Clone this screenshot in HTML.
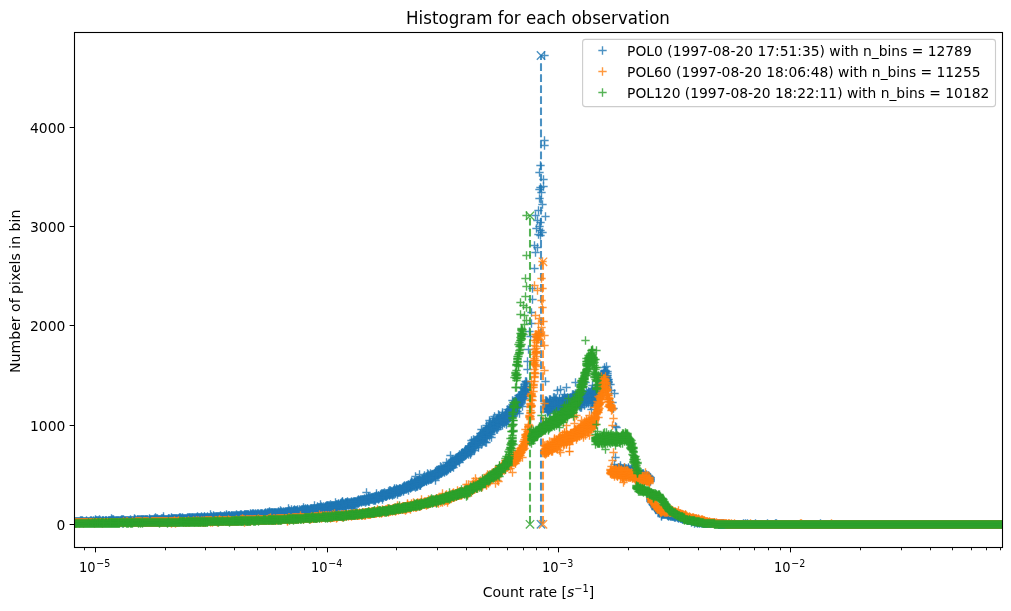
<!DOCTYPE html>
<html lang="en"><head><meta charset="utf-8"><title>Histogram for each observation</title>
<style>html,body{margin:0;padding:0;background:#fff}body{width:1011px;height:611px;overflow:hidden}</style></head>
<body>
<svg width="1011" height="611" viewBox="0 0 1011 611" style="display:block;font-family:'DejaVu Sans','Liberation Sans',sans-serif;font-size:13.89px;fill:#000">
<defs>
<marker id="pb" markerUnits="userSpaceOnUse" markerWidth="10" markerHeight="10" refX="5" refY="5" overflow="visible"><path d="M5 .83v8.34M.83 5h8.34" stroke="#1f77b4" stroke-opacity=".8" stroke-width="1.39" fill="none"/></marker>
<marker id="qb" markerUnits="userSpaceOnUse" markerWidth="10" markerHeight="10" refX="5" refY="5" overflow="visible"><path d="M5 .83v8.34M.83 5h8.34" stroke="#1f77b4" stroke-opacity=".98" stroke-width="1.39" fill="none"/></marker>
<marker id="xb" markerUnits="userSpaceOnUse" markerWidth="10" markerHeight="10" refX="5" refY="5" overflow="visible"><path d="M.83 .83l8.34 8.34M.83 9.17l8.34-8.34" stroke="#1f77b4" stroke-opacity=".8" stroke-width="1.39" fill="none"/></marker>
<marker id="po" markerUnits="userSpaceOnUse" markerWidth="10" markerHeight="10" refX="5" refY="5" overflow="visible"><path d="M5 .83v8.34M.83 5h8.34" stroke="#ff7f0e" stroke-opacity=".8" stroke-width="1.39" fill="none"/></marker>
<marker id="qo" markerUnits="userSpaceOnUse" markerWidth="10" markerHeight="10" refX="5" refY="5" overflow="visible"><path d="M5 .83v8.34M.83 5h8.34" stroke="#ff7f0e" stroke-opacity=".98" stroke-width="1.39" fill="none"/></marker>
<marker id="xo" markerUnits="userSpaceOnUse" markerWidth="10" markerHeight="10" refX="5" refY="5" overflow="visible"><path d="M.83 .83l8.34 8.34M.83 9.17l8.34-8.34" stroke="#ff7f0e" stroke-opacity=".8" stroke-width="1.39" fill="none"/></marker>
<marker id="pg" markerUnits="userSpaceOnUse" markerWidth="10" markerHeight="10" refX="5" refY="5" overflow="visible"><path d="M5 .83v8.34M.83 5h8.34" stroke="#2ca02c" stroke-opacity=".8" stroke-width="1.39" fill="none"/></marker>
<marker id="qg" markerUnits="userSpaceOnUse" markerWidth="10" markerHeight="10" refX="5" refY="5" overflow="visible"><path d="M5 .83v8.34M.83 5h8.34" stroke="#2ca02c" stroke-opacity=".98" stroke-width="1.39" fill="none"/></marker>
<marker id="xg" markerUnits="userSpaceOnUse" markerWidth="10" markerHeight="10" refX="5" refY="5" overflow="visible"><path d="M.83 .83l8.34 8.34M.83 9.17l8.34-8.34" stroke="#2ca02c" stroke-opacity=".8" stroke-width="1.39" fill="none"/></marker>
<clipPath id="ax"><rect x="74.5" y="32.5" width="928.0" height="515.0"/></clipPath>
</defs>
<rect width="1011" height="611" fill="#fff"/>
<g clip-path="url(#ax)">
<path transform="translate(.5 .5)" d="M75 522 75 521 76 521 76 522 77 521 77 522 78 521 78 522 79 521 79 522 80 521 81 522 81 521 82 521 83 521 83 522 84 521 85 521 86 521 86 522 87 521 88 521 88 522 89 521 89 522 90 522 90 521 91 522 91 521 92 521 92 522 93 521 94 521 95 521 96 521 96 520 97 521 97 522 98 520 98 521 98 522 99 521 99 522 100 521 100 522 101 521 102 521 102 522 102 520 103 521 103 520 104 521 105 521 105 520 106 521 106 520 107 521 108 521 108 520 109 522 109 521 109 520 110 521 110 520 111 521 111 520 112 521 113 521 113 520 114 521 115 521 116 521 116 520 117 521 117 520 118 520 118 521 119 521 120 521 120 520 121 520 121 521 122 521 122 520 123 520 123 521 124 520 124 521 125 521 125 520 126 520 126 521 127 520 127 521 128 520 128 521 129 520 131 520 131 521 132 521 132 520 133 520 134 520 135 520 136 520 136 521 137 519 137 520 138 521 138 520 139 520 140 520 141 520 141 519 142 520 142 519 143 520 143 519 144 520 145 520 145 519 146 519 146 521 146 520 147 519 147 520 148 520 149 519 149 520 150 520 150 519 151 520 151 519 152 520 152 519 153 519 153 520 154 520 154 519 155 519 155 520 156 520 156 519 157 520 157 519 158 519 159 520 159 519 160 519 160 520 161 520 161 519 162 519 163 519 163 518 164 519 164 520 165 519 166 520 166 519 167 519 167 520 168 519 168 518 169 519 169 520 170 519 170 520 171 519 171 520 172 519 172 518 173 519 173 520 173 518 174 519 174 520 174 518 175 518 175 519 176 518 176 519 177 519 178 518 178 519 179 518 179 519 180 519 180 518 181 518 181 519 182 518 182 519 183 519 183 518 184 519 184 518 185 518 186 519 186 518 187 518 188 518 189 517 189 518 189 519 190 518 190 519 191 518 191 519 192 517 192 518 192 519 193 519 193 518 194 518 194 519 195 518 196 517 196 519 196 518 197 518 197 517 197 519 198 519 198 517 198 518 199 518 199 517 200 518 200 517 201 517 201 518 202 518 202 517 202 519 203 517 203 518 204 518 204 517 204 516 205 517 205 518 206 517 206 518 207 518 207 517 208 518 208 517 209 517 209 518 210 517 210 518 211 517 211 518 211 516 212 517 212 518 213 517 214 517 214 518 215 518 215 517 216 517 216 516 217 517 217 518 217 516 218 517 218 516 219 518 219 516 219 517 220 517 220 516 221 517 221 516 222 517 222 516 223 517 223 516 224 517 224 516 225 516 225 517 226 516 226 517 227 517 227 516 228 517 228 516 228 515 229 515 229 516 230 517 230 516 231 516 231 515 232 516 233 516 234 516 234 517 235 516 235 517 236 516 237 516 237 515 238 516 238 515 239 516 239 515 240 515 240 516 241 515 242 516 242 515 243 515 244 516 244 514 244 515 245 516 245 514 245 515 246 515 246 514 247 515 247 514 248 516 248 515 248 514 249 515 249 517 249 516 250 516 250 515 250 514 251 515 251 514 252 515 252 514 253 514 253 515 254 515 254 514 254 516 255 515 255 514 256 516 256 514 256 515 257 515 257 514 258 514 258 515 259 514 259 515 260 515 260 514 261 514 261 513 262 514 263 514 263 515 264 513 264 514 265 514 265 513 266 514 267 514 267 513 268 513 268 514 269 514 269 513 270 515 270 514 270 513 271 512 272 512 272 513 273 513 273 514 274 512 274 513 275 513 275 512 276 514 276 513 277 513 278 513 278 512 279 513 279 512 280 513 280 512 281 512 282 512 282 513 283 513 283 512 284 512 285 512 286 512 286 513 287 512 287 511 287 513 288 512 288 511 288 513 289 511 289 512 290 511 290 513 290 512 291 512 291 511 292 512 292 511 293 511 293 512 293 510 294 511 294 510 294 512 295 511 295 510 295 512 296 512 296 510 296 511 297 511 298 511 299 512 300 510 300 511 301 510 301 511 302 510 302 511 302 509 303 510 304 510 304 509 305 510 305 509 306 509 306 510 306 512 307 510 307 508 307 509 308 509 308 510 310 509 310 510 311 508 311 510 311 509 312 509 312 510 313 508 313 509 314 508 315 508 315 509 315 510 316 508 316 509 317 508 317 509 318 507 318 509 319 507 319 508 319 509 320 508 320 509 320 507 321 507 321 508 322 507 322 508 323 508 324 507 324 508 325 508 325 506 325 507 326 507 326 506 326 508 327 505 327 506 327 507 328 508 328 507 329 506 329 507 330 507 330 506 331 505 331 506 331 507 332 508 332 506 332 505 333 506 333 508 333 505 334 506 334 507 334 505 335 505 335 506 336 507 336 506 336 504 337 505 337 506 338 504 338 505 339 506 340 505 340 504 340 503 341 505 341 504 342 506 342 504 342 501 343 503 343 504 343 505 344 505 344 504 345 507 345 505 345 502 346 502 346 503 346 504 347 503 347 504 349 503 349 504 350 504 350 503 351 502 351 504 352 502 353 502 353 504 353 503 354 502 354 504 354 503 354 501 355 502 355 501 356 502 357 502 358 502 358 500 358 501 359 501 359 500 359 502 360 501 360 500 361 501 361 500 362 499 362 500 363 499 363 501 363 500 364 499 364 500 365 500 365 499 366 500 366 499 366 498 367 500 367 499 368 500 368 501 369 499 369 498 370 499 370 498 371 499 371 498 371 497 372 498 372 499 372 497 373 498 373 497 374 498 375 497 375 498 375 496 376 497 376 496 376 498 377 498 377 497 378 498 378 497 378 495 379 497 379 496 380 496 380 495 381 496 381 497 381 495 382 494 382 495 382 496 382 497 383 493 383 495 384 494 384 495 385 495 385 496 386 496 386 494 387 495 387 493 388 494 388 493 389 494 389 493 389 495 390 494 390 493 391 493 391 492 391 491 392 493 392 492 393 492 393 493 393 490 394 490 394 491 395 493 395 490 395 491 396 491 397 492 397 489 397 491 398 489 398 492 398 490 398 491 399 490 399 488 400 489 401 489 401 490 402 488 402 489 403 487 403 489 403 488 404 487 404 489 404 486 404 488 405 487 406 485 406 488 407 486 407 487 408 487 408 486 409 486 409 485 409 487 410 484 410 485 411 482 412 484 412 485 413 484 413 483 414 485 414 484 414 483 414 482 414 481 415 482 415 483 416 483 416 486 417 480 418 483 418 480 418 482 419 481 419 482 420 483 420 480 420 482 420 485 421 483 421 482 421 480 422 480 422 479 422 482 423 480 423 481 424 479 424 481 425 480 425 479 426 480 426 479 426 478 426 481 427 478 427 479 427 477 428 479 429 476 429 477 430 478 430 477 430 476 430 479 431 476 431 477 432 474 432 475 433 476 434 474 435 471 435 475 435 473 436 473 436 474 437 475 437 473 438 472 438 473 438 470 439 471 439 470 439 472 440 470 440 472 440 471 440 473 441 470 441 473 441 469 442 471 443 469 444 469 444 468 445 468 445 466 445 470 446 466 446 469 447 466 447 467 448 466 449 465 449 464 449 463 449 466 450 464 450 465 450 462 450 468 451 463 451 462 452 465 452 461 452 466 452 462 453 462 453 461 455 461 455 460 456 459 457 459 457 457 457 460 458 456 458 458 458 459 459 457 459 459 460 457 460 456 461 453 461 455 462 454 462 456 463 456 463 454 463 455 463 453 464 453 465 455 465 449 465 453 465 451 465 452 465 450 466 449 466 452 467 453 467 452 468 450 469 449 469 448 469 451 470 448 470 450 471 446 471 450 471 447 471 445 472 445 472 443 472 446 473 445 473 443 474 443 474 444 474 447 475 443 476 441 476 444 476 443 476 440 476 442 477 442 477 438 478 442 479 438 479 441 480 433 480 438 481 439 482 436 483 440 483 433 483 437 484 435 484 437 484 436 485 434 485 433 485 430 487 435 487 433 488 434 488 427 488 430 488 431 490 429 491 429 491 427 491 428 491 431 492 423 493 426 493 424 493 425 494 422 494 425 495 425 495 422 496 425 496 424 496 421 497 418 498 424 498 423 499 421 499 420 500 419 500 420 500 418 500 422 501 419 501 421 502 422 502 416 502 415 503 421 504 417 505 414 505 415 505 417 505 420 506 414 506 418 506 421 507 413 507 418 508 414 509 417 509 412 510 412 510 414 510 416 511 410 511 411 511 407 513 411 513 412 515 410 515 407 516 407 516 398 518 398 519 399 519 395 521 398 522 396 522 397 522 395 522 394 523 392 523 394 523 395 524 390 524 389 524 394 524 391 525 392 525 390 526 390 546 407 547 407 547 409 547 408 547 404 547 406 548 411 549 409 549 405 549 403 550 405 550 406 551 404 552 401 552 408 553 406 553 407 554 403 554 406 555 401 555 402 555 405 555 408 555 404 558 404 558 402 558 403 558 405 559 398 560 401 560 402 561 404 561 401 562 403 562 399 563 400 563 405 564 401 564 405 564 403 565 398 565 403 566 400 566 401 566 402 567 403 569 401 570 399 570 398 571 399 571 402 571 398 572 399 573 398 573 396 574 399 575 401 575 398 575 399 576 398 577 402 578 399 578 394 578 401 579 398 579 399 579 405 580 400 581 395 581 397 581 396 582 398 582 395 582 400 583 399 583 400 584 399 584 397 585 398 585 396 586 399 586 402 586 395 587 400 587 396 589 396 589 399 590 394 590 398 591 394 591 397 591 399 592 401 592 402 592 397 592 396 594 400 595 395 596 397 596 396 597 391 597 392 598 391 599 392 599 386 599 387 598 386 602 381 600 380 601 379 603 378 602 378 601 375 603 375 604 373 605 372 604 371 605 381 605 375 605 371 607 375 607 379 608 379 608 382 614 468 614 469 615 469 615 470 616 470 616 472 616 471 617 469 617 471 617 468 618 470 619 469 620 470 620 471 621 468 621 471 621 470 622 469 622 473 622 472 622 471 623 471 623 472 623 469 623 470 624 473 624 472 624 470 625 472 625 471 626 471 626 473 627 473 627 471 627 470 627 472 628 473 629 473 630 471 630 474 630 473 631 472 632 473 633 474 633 473 633 472 634 474 634 472 634 473 634 471 635 472 635 475 636 475 636 476 637 475 637 476 637 474 637 472 638 475 638 474 638 477 639 477 640 476 641 476 641 477 641 474 642 475 642 476 642 474 643 476 643 477 644 475 644 477 644 476 645 476 646 477 646 479 646 478 646 476 647 478 647 477 648 480 648 478 648 476 648 477 649 478 649 477 650 477 650 479 650 499 650 498 651 499 651 501 652 501 652 502 653 503 653 505 653 504 654 505 654 504 654 506 655 506 655 507 655 508 656 509 656 508 657 509 658 510 658 511 659 511 659 510 659 512 660 512 660 510 660 511 661 513 661 512 662 514 662 513 662 512 663 513 663 514 663 512 664 513 664 514 665 513 665 514 665 512 666 514 666 513 667 515 667 514 667 513 668 514 668 515 669 514 669 515 670 514 670 515 671 515 671 514 672 514 672 515 672 516 673 516 673 515 674 515 674 516 675 516 676 516 676 515 677 517 677 516 678 517 678 516 679 516 679 517 680 516 680 517 680 518 681 518 681 517 682 519 682 518 682 517 683 518 683 517 684 519 685 519 685 518 686 519 686 518 687 520 687 519 688 519 688 520 689 519 689 520 690 519 690 520 691 520 691 519 692 520 693 521 693 520 694 520 694 521 695 521 695 520 696 521 696 522 697 521 697 522 698 521 698 522 699 522 700 522 701 522 702 522 703 522 703 523 704 522 704 523 705 523 705 522 706 522 706 523 707 523 708 523 708 522 709 523 709 522 710 523 711 523 712 523 713 523 714 523 715 523 716 523 717 523 718 523 718 524 719 523 719 524 720 524 721 524 721 523 722 523 722 524 723 523 723 524 724 524 725 524 726 524 727 524 728 524 729 524 730 524 731 524 732 524 733 524 734 524 735 524 736 524 737 524 738 524 739 524 740 524 741 524 742 524 743 524 744 524 745 524 746 524 747 524 748 524 749 524 750 524 751 524 752 524 753 524 754 524 755 524 756 524 757 524 758 524 759 524 760 524 761 524 762 524 763 524 764 524 765 524 766 524 767 524 768 524 769 524 770 524 771 524 772 524 773 524 774 524 775 524 776 524 777 524 778 524 779 524 780 524 781 524 782 524 783 524 784 524 785 524 786 524 787 524 788 524 789 524 790 524 791 524 792 524 793 524 794 524 795 524 796 524 797 524 798 524 799 524 800 524 801 524 802 524 803 524 804 524 805 524 806 524 807 524 808 524 809 524 810 524 811 524 812 524 813 524 814 524 815 524 816 524 817 524 818 524 819 524 820 524 821 524 822 524 823 524 824 524 825 524 826 524 827 524 828 524 829 524 830 524 831 524 832 524 833 524 834 524 835 524 836 524 837 524 838 524 839 524 840 524 841 524 842 524 843 524 844 524 845 524 846 524 847 524 848 524 849 524 850 524 851 524 852 524 853 524 854 524 855 524 856 524 857 524 858 524 859 524 860 524 861 524 862 524 863 524 864 524 865 524 866 524 867 524 868 524 869 524 870 524 871 524 872 524 873 524 874 524 875 524 876 524 877 524 878 524 879 524 880 524 881 524 882 524 883 524 884 524 885 524 886 524 887 524 888 524 889 524 890 524 891 524 892 524 893 524 894 524 895 524 896 524 897 524 898 524 899 524 900 524 901 524 902 524 903 524 904 524 905 524 906 524 907 524 908 524 909 524 910 524 911 524 912 524 913 524 914 524 915 524 916 524 917 524 918 524 919 524 920 524 921 524 922 524 923 524 924 524 925 524 926 524 927 524 928 524 929 524 930 524 931 524 932 524 933 524 934 524 935 524 936 524 937 524 938 524 939 524 940 524 941 524 942 524 943 524 944 524 945 524 946 524 947 524 948 524 949 524 950 524 951 524 952 524 953 524 954 524 955 524 956 524 957 524 958 524 959 524 960 524 961 524 962 524 963 524 964 524 965 524 966 524 967 524 968 524 969 524 970 524 971 524 972 524 973 524 974 524 975 524 976 524 977 524 978 524 979 524 980 524 981 524 982 524 983 524 984 524 985 524 986 524 987 524 988 524 989 524 990 524 991 524 992 524 993 524 994 524 995 524 996 524 997 524 998 524 999 524 1000 524 1001 524 1002 524" fill="none" stroke="none" marker-start="url(#qb)" marker-mid="url(#qb)" marker-end="url(#qb)"/>
<path transform="translate(.5 .5)" d="M74 522 75 523 80 520 81 520 82 522 82 520 84 522 85 522 86 520 87 522 90 520 91 520 93 520 94 522 95 519 95 520 97 520 99 519 100 520 103 522 104 522 105 522 107 522 108 522 110 522 111 518 112 520 112 519 113 519 114 520 115 520 115 522 116 522 119 520 121 519 122 519 122 523 123 522 123 519 129 521 130 519 130 520 130 521 131 522 133 521 134 521 134 519 134 518 135 519 135 521 138 519 139 519 139 521 140 519 142 521 144 519 145 521 145 522 149 521 149 518 150 521 154 521 154 518 155 517 156 518 157 518 159 521 161 518 162 520 162 518 163 520 163 516 165 520 166 521 169 518 171 517 171 518 177 518 178 520 179 517 180 517 182 520 182 517 187 517 187 519 188 519 188 517 190 517 191 517 193 517 194 517 195 517 197 516 199 519 201 516 206 519 207 519 207 516 208 520 210 514 211 519 212 519 213 518 213 516 213 515 214 516 215 516 220 515 222 518 223 518 224 515 226 515 226 514 228 518 232 515 232 517 233 515 233 517 234 515 235 515 236 515 236 514 238 517 238 518 240 514 241 514 243 517 243 516 246 516 247 516 249 519 250 513 251 516 252 516 252 513 253 513 255 513 255 516 257 513 258 513 259 516 260 513 260 516 262 513 262 515 264 516 264 515 265 515 265 512 266 513 267 512 268 512 268 515 269 512 269 515 269 511 270 512 271 514 271 513 272 514 273 512 274 514 274 515 275 514 276 512 277 518 277 512 278 514 278 511 279 515 280 514 280 510 281 513 281 511 282 514 283 516 283 511 284 514 284 513 285 513 285 511 286 511 288 514 288 508 289 510 291 509 293 513 294 509 297 510 297 509 298 512 299 509 301 509 303 507 303 509 304 511 305 511 305 508 306 513 306 511 308 511 309 509 309 510 310 511 310 508 312 508 313 510 313 511 314 505 314 509 316 510 317 506 317 507 320 504 321 511 321 506 322 509 323 506 326 505 327 508 328 505 328 506 328 510 329 505 329 508 330 504 330 508 331 508 331 509 332 507 335 507 335 502 336 505 337 507 337 504 338 503 338 507 338 506 339 505 340 506 341 507 341 503 341 502 342 505 342 502 343 507 344 503 344 506 345 504 346 505 346 508 347 502 347 501 348 504 348 505 348 502 348 503 349 502 350 502 351 501 351 507 351 503 352 504 352 503 353 508 353 501 353 510 354 505 355 503 356 501 356 503 357 500 357 503 357 501 358 499 358 503 360 499 361 499 361 502 362 501 364 498 364 501 365 502 366 492 366 501 367 498 368 499 368 498 368 496 368 497 369 497 369 501 370 497 373 500 374 496 374 500 374 499 375 499 375 500 376 493 376 495 377 496 378 499 378 496 379 498 380 497 380 494 381 494 381 493 382 493 382 499 383 494 383 497 384 492 385 493 386 495 386 493 387 494 388 491 389 490 389 492 390 492 390 490 390 491 391 494 392 491 392 495 392 494 393 494 394 494 394 488 394 489 395 492 396 489 396 488 396 490 397 490 397 494 399 489 399 492 399 491 400 492 400 490 400 488 401 491 402 487 403 491 403 486 403 490 404 485 405 488 405 489 405 486 406 487 406 489 406 486 407 488 407 485 408 484 408 490 408 485 410 486 410 483 410 488 410 487 411 481 411 487 411 485 411 483 411 486 412 486 412 482 413 486 413 485 414 486 415 484 415 487 415 476 416 480 416 482 416 485 416 481 417 485 417 483 417 486 417 482 417 484 418 484 418 481 419 485 419 480 419 479 419 474 419 483 420 481 421 481 422 481 423 477 423 479 424 480 424 478 424 475 426 476 426 477 427 473 427 476 428 475 428 474 428 480 428 478 428 477 428 476 429 475 429 479 430 475 430 473 431 479 431 475 431 474 431 478 432 476 432 477 432 478 433 477 434 475 434 473 435 477 435 480 435 474 436 475 436 470 436 472 437 472 437 470 437 471 438 475 438 474 438 469 439 474 439 469 439 473 440 466 441 471 441 467 442 472 442 468 442 469 443 471 443 470 443 467 444 472 444 471 445 469 445 467 446 471 446 467 446 468 446 470 446 462 447 468 447 465 447 470 448 465 448 469 448 467 448 468 448 464 450 455 450 467 451 464 451 461 451 460 451 466 452 463 452 459 453 464 453 463 453 460 453 467 454 463 454 464 454 461 454 460 455 462 455 463 455 464 455 459 455 458 456 457 456 460 457 458 459 462 459 454 459 456 460 455 460 459 461 458 461 457 461 454 462 455 462 453 462 458 462 452 462 457 464 451 464 456 465 454 466 454 467 450 467 451 467 449 468 451 468 447 468 449 468 454 469 450 469 452 469 446 470 454 470 453 471 440 471 444 471 448 471 443 471 452 472 448 472 444 472 442 473 442 473 448 473 439 474 450 474 442 474 440 474 445 475 447 475 440 475 442 475 441 476 445 478 441 478 440 478 436 478 447 478 445 478 438 478 443 478 439 479 442 479 439 480 439 480 436 480 442 480 437 480 435 481 435 481 429 481 444 481 437 482 442 482 438 482 432 482 437 483 432 483 434 483 441 483 431 483 435 484 441 484 433 484 434 484 431 485 436 485 429 485 442 485 438 485 432 486 436 486 425 486 438 486 432 486 429 486 427 486 442 486 433 486 430 487 430 487 429 487 428 487 432 488 428 488 433 488 432 489 429 489 423 489 420 489 432 489 430 489 436 490 431 490 430 490 426 490 434 490 422 491 434 491 425 491 437 492 426 492 427 492 429 492 428 492 425 492 421 493 430 493 427 493 418 493 423 493 428 493 421 494 429 494 416 494 428 495 424 495 421 495 423 496 429 496 426 496 420 496 427 496 419 497 420 497 429 497 419 498 419 498 427 498 414 498 421 499 418 499 424 499 415 499 422 500 425 500 424 500 421 501 418 501 417 502 419 502 421 502 412 502 414 502 425 502 417 502 420 503 419 503 422 503 420 504 419 504 415 504 423 505 413 505 419 505 416 506 420 506 412 506 424 507 414 507 416 507 409 507 420 508 420 508 416 508 417 509 409 509 418 509 411 509 416 509 413 510 415 510 413 510 406 510 408 510 411 511 414 511 415 512 409 512 410 512 400 512 406 512 412 512 404 512 411 512 408 513 416 513 410 513 406 513 414 514 404 514 410 514 409 514 413 515 401 515 408 515 402 515 413 515 403 515 412 515 404 516 404 516 400 516 406 516 399 516 411 517 411 517 402 517 397 517 406 517 401 517 403 517 398 518 404 518 395 518 403 519 405 519 397 519 413 519 402 519 400 520 404 520 395 520 396 520 397 521 402 521 399 521 401 521 400 521 403 521 387 522 392 522 406 522 398 522 399 523 393 523 391 523 388 523 396 524 386 524 392 524 396 524 388 524 398 524 384 525 395 525 393 525 386 525 389 526 389 526 386 526 381 526 383 526 392 526 382 545 400 545 403 546 404 546 401 546 406 546 400 546 408 546 405 547 402 547 411 547 412 547 401 548 410 548 405 548 404 548 409 549 399 549 407 549 423 549 410 549 402 550 402 550 412 550 401 550 400 550 399 550 409 550 408 550 403 551 403 552 407 552 404 552 405 552 402 553 397 553 404 554 407 554 397 554 400 554 409 554 405 554 404 555 400 555 403 555 410 555 407 555 398 556 398 556 407 556 402 557 405 557 401 557 404 557 390 557 403 557 408 558 409 559 404 559 402 560 406 560 411 560 389 560 408 560 403 561 408 561 403 562 408 562 402 562 400 562 409 562 398 562 404 562 401 563 401 563 410 563 403 563 402 563 398 563 404 563 409 564 399 564 397 564 394 565 404 565 405 565 407 566 407 566 405 566 387 566 406 566 398 566 399 566 404 567 398 567 397 567 405 567 399 568 403 568 408 568 404 569 404 569 398 570 400 570 405 570 406 570 397 570 404 571 401 571 403 572 401 572 394 572 402 572 400 572 397 573 403 573 399 573 400 573 397 573 404 573 401 573 402 573 394 573 395 574 395 574 402 574 398 574 403 574 404 575 402 575 404 575 403 575 393 575 382 576 396 576 401 576 404 577 397 577 398 577 395 577 400 577 399 578 403 578 397 578 400 578 393 578 392 579 396 579 400 579 403 579 406 579 401 579 402 580 392 580 407 580 402 580 395 580 397 580 404 581 401 581 405 581 399 581 400 581 403 581 407 582 391 582 401 582 396 582 402 583 396 583 401 583 398 583 397 584 401 584 402 584 405 585 400 585 382 585 397 586 396 586 390 586 403 587 393 587 399 588 401 588 398 588 403 588 397 588 393 588 396 588 391 589 400 589 392 590 405 590 392 590 393 590 399 590 395 590 396 591 390 591 409 591 402 591 395 592 394 592 398 592 399 592 388 592 385 592 395 592 391 592 390 593 400 593 399 594 391 594 392 594 394 594 395 594 401 595 406 595 399 595 401 595 398 595 394 595 396 596 398 596 392 596 388 596 393 596 405 596 395 597 403 597 395 597 389 597 396 599 391 599 389 598 388 600 389 598 384 600 386 599 384 599 385 600 383 601 383 601 384 601 381 602 382 599 382 600 382 602 384 600 381 601 380 601 377 602 377 603 377 601 376 602 374 601 374 603 373 603 374 604 377 604 367 604 370 604 380 604 372 605 370 606 379 606 376 606 378 606 381 606 366 606 377 606 380 606 386 607 371 607 373 607 380 607 383 607 381 607 377 608 384 608 381 614 470 614 472 614 464 615 471 616 468 617 470 618 467 618 471 619 468 619 471 619 467 620 472 620 465 620 469 620 473 620 467 620 468 621 473 621 472 622 470 622 468 622 474 623 468 623 473 624 468 624 467 624 469 624 471 625 469 625 473 625 468 626 472 626 468 626 474 626 470 626 475 627 469 627 474 628 468 628 467 628 469 628 470 628 472 629 471 629 469 629 470 629 472 630 469 630 472 631 475 631 471 631 469 631 468 631 474 632 468 632 471 632 475 632 476 633 475 633 471 634 470 634 476 636 472 637 473 637 471 638 479 639 474 639 472 639 478 640 475 640 478 640 474 642 480 642 477 642 473 643 473 643 474 643 475 644 478 644 479 644 480 645 475 645 477 646 474 646 480 647 480 648 475 648 479 649 479 649 481 649 476 650 480 650 478 650 481 650 501 650 497 650 500 651 497 651 502 651 500 652 504 654 507 655 509 656 506 656 507 657 508 658 508 658 509 659 513 661 516 661 515 662 511 664 512 668 516 668 513 669 513 670 513 670 516 671 516 673 513 674 517 675 517 675 515 677 515 678 518 679 515 681 516 682 516 684 518 686 517 687 517 687 518 688 518 689 518 690 518 691 518 691 522 692 521 692 519 694 523 697 523 699 521 699 523 700 521 701 523 703 521 707 522 714 522 720 523 544 55 544 140 544 145 540 165 539 172 543 179 543 186 540 187 539 189 541 192 539 198 542 204 538 210 545 216 535 215 537 220 540 222 539 226 536 228 540 230 542 232 538 234 540 235 534 245 537 247 535 252 534 268 532 288 532 299 531 312 531 323 545 381 525 381 527 369 527 361 528 349 530 336 529 331 610 384 611 390 614 393 612 402 613 408 615 426 616 427 615 457 743 523 745 523 747 523 755 523 767 523 775 523 776 523 820 523" fill="none" stroke="none" marker-start="url(#pb)" marker-mid="url(#pb)" marker-end="url(#pb)"/>
<path d="M541.0 524.3L541.0 55.5" fill="none" stroke="#1f77b4" stroke-opacity=".8" stroke-width="2.08" stroke-dasharray="7.71 3.33" stroke-dashoffset="-0.7" marker-start="url(#xb)" marker-end="url(#xb)"/>
<path transform="translate(.5 .5)" d="M74 522 75 522 76 522 77 522 78 522 79 522 80 522 81 522 82 522 83 522 84 522 85 522 86 522 87 522 88 522 89 522 90 522 91 522 92 522 93 522 94 522 95 522 96 522 97 522 98 522 99 522 100 522 101 522 102 522 103 522 104 522 105 522 106 522 107 522 108 522 109 522 110 522 111 522 112 522 113 522 114 522 115 522 116 522 117 522 118 522 119 522 120 522 121 522 122 522 123 522 124 522 125 522 126 522 127 522 128 522 129 522 130 522 131 522 132 522 132 521 133 522 134 522 135 522 136 522 136 521 137 521 137 522 138 521 138 522 139 521 139 522 140 522 141 522 142 522 143 522 143 521 144 521 144 522 145 522 145 521 146 522 146 521 147 522 148 522 149 522 150 522 151 522 151 521 152 521 152 522 153 522 153 521 154 522 154 521 155 521 155 522 156 522 156 521 157 521 157 522 158 521 158 522 159 522 159 521 160 521 160 522 161 522 161 521 162 522 162 521 163 521 163 522 164 522 164 521 165 521 166 521 166 522 167 521 167 522 168 521 168 522 169 521 170 522 170 521 171 521 171 522 172 521 172 522 173 521 173 522 174 521 174 522 175 521 176 522 176 521 177 521 177 522 178 521 179 521 180 521 181 521 182 521 183 522 183 521 184 521 185 522 185 521 186 521 187 521 188 521 189 521 190 521 191 521 192 521 193 521 194 521 195 521 196 521 196 520 197 521 198 521 199 521 200 521 201 521 202 521 203 521 204 521 205 520 205 521 206 520 206 521 207 520 207 521 208 521 209 521 209 520 210 521 210 520 211 521 211 520 212 521 213 521 214 521 214 520 215 520 215 521 216 521 216 520 217 521 218 521 219 521 219 520 220 521 220 520 221 520 221 521 222 520 222 521 223 520 223 521 224 520 225 520 225 521 226 520 226 521 227 521 227 520 228 520 228 521 229 520 229 521 230 521 230 520 231 520 231 521 232 520 232 521 233 520 234 520 235 520 236 521 236 520 237 520 238 520 239 520 240 520 241 521 241 520 242 520 243 520 243 519 244 520 245 520 246 520 246 519 247 520 247 519 248 520 249 520 250 519 250 521 250 520 251 520 252 520 253 520 253 519 254 520 254 519 255 519 255 520 256 519 256 520 257 520 257 519 258 520 258 519 259 520 259 519 260 519 260 520 261 519 261 520 262 519 262 520 263 519 263 520 264 520 264 519 265 520 265 519 266 520 266 519 267 519 268 519 268 520 269 519 270 519 271 519 272 519 272 520 273 519 273 520 274 519 275 519 276 519 277 519 278 519 278 518 279 519 279 518 280 519 280 518 281 518 281 519 282 519 282 518 283 518 283 519 284 519 284 518 285 519 285 518 286 519 286 518 287 518 287 519 288 518 288 519 289 519 289 518 290 518 291 518 291 519 292 519 292 518 293 518 294 518 294 517 295 518 295 519 295 517 296 518 296 517 296 519 297 518 298 518 299 518 299 517 300 517 300 518 301 518 301 517 302 518 302 517 303 518 303 517 304 518 304 517 305 517 305 518 306 518 306 517 307 518 307 517 308 517 308 518 309 517 310 518 310 517 311 517 311 518 312 518 312 517 313 517 314 517 314 516 315 517 316 518 316 517 316 516 317 517 317 516 318 517 318 516 319 517 320 517 320 516 321 517 321 516 322 517 322 516 323 516 323 517 323 515 324 517 324 516 325 516 325 517 326 516 326 517 326 515 327 516 328 515 328 516 329 516 329 517 330 517 330 516 331 516 331 517 332 516 332 517 333 517 333 516 333 515 334 516 335 515 335 516 336 516 337 516 338 516 338 515 339 516 339 515 340 516 340 515 341 516 341 515 342 515 342 516 343 515 344 514 344 516 344 515 345 516 345 515 345 514 346 515 347 514 347 515 348 514 348 515 349 514 350 514 350 515 351 514 351 515 352 514 352 515 353 514 353 515 354 515 354 514 355 514 355 513 356 514 356 515 356 513 357 514 357 513 357 515 358 514 358 513 358 515 359 514 360 514 360 513 361 514 361 513 362 515 363 513 363 514 363 512 364 513 364 514 365 513 366 513 367 512 367 513 368 514 368 512 368 513 369 514 369 512 369 513 370 513 370 514 370 512 371 511 371 512 371 513 372 512 373 513 373 511 373 512 374 512 374 513 374 511 375 513 375 511 375 512 376 511 376 512 377 512 377 511 378 512 379 512 379 511 380 511 381 511 382 510 382 511 382 512 383 510 383 511 384 512 384 511 384 510 385 510 386 511 386 509 386 510 387 510 387 511 388 511 388 510 389 510 389 509 390 510 390 511 390 509 391 509 391 510 392 510 392 509 393 509 394 510 394 509 395 509 395 510 396 509 396 510 397 509 397 508 398 509 398 507 398 508 399 507 399 508 399 509 400 508 400 509 401 508 401 507 402 508 402 507 402 506 403 508 403 507 403 506 404 506 404 507 405 507 405 508 405 506 406 508 406 507 406 506 407 507 407 506 408 507 409 507 409 506 410 505 410 507 410 506 411 506 412 506 412 505 413 506 413 505 413 507 414 504 414 505 415 506 415 505 416 505 416 506 416 504 417 505 418 504 418 505 419 504 419 505 420 505 420 504 420 503 421 505 421 503 421 504 422 504 422 503 423 502 423 503 424 504 424 503 424 502 425 502 425 503 426 503 426 504 426 502 427 502 427 503 428 503 428 502 429 502 430 500 430 501 430 503 430 502 431 501 431 502 432 501 432 500 433 501 433 500 433 502 434 500 435 500 435 501 436 501 436 500 436 498 436 499 437 500 437 499 437 502 438 498 438 499 439 500 439 498 440 500 440 499 441 499 441 497 442 499 442 498 443 499 444 498 444 497 445 498 445 500 445 499 446 496 446 498 446 497 447 497 447 496 448 497 448 496 449 497 449 496 449 495 450 497 450 495 450 496 451 496 452 495 452 496 453 497 453 494 453 495 453 493 454 495 454 494 455 496 455 493 455 494 456 494 456 493 456 496 457 494 457 493 458 493 459 493 459 495 459 494 459 491 460 492 460 493 460 491 461 492 461 491 462 492 462 493 463 492 463 493 463 491 464 492 464 490 465 492 465 491 466 492 466 491 466 488 467 491 467 489 467 490 468 490 468 489 469 491 470 490 470 489 471 488 471 489 472 490 472 489 472 487 472 488 473 488 473 485 474 487 474 489 475 487 475 486 477 485 477 486 478 486 478 485 478 484 479 485 479 484 480 485 480 483 480 482 481 486 481 484 481 485 481 483 482 482 483 483 483 482 483 481 484 481 484 483 484 482 485 482 486 481 486 479 487 481 487 480 487 478 488 480 488 479 488 478 489 479 489 478 489 477 490 476 490 479 490 477 490 480 491 476 491 478 492 477 493 476 493 475 494 476 494 475 494 473 495 475 495 474 496 474 497 473 498 471 498 474 499 468 499 473 499 469 500 471 500 467 500 469 500 470 501 469 501 468 502 468 502 469 502 466 503 466 503 464 504 464 504 465 505 469 505 464 505 467 505 460 506 464 506 462 507 464 508 464 508 465 508 463 509 463 509 461 509 465 510 463 510 460 510 462 511 460 511 461 512 460 513 456 513 459 514 458 514 456 515 460 515 458 515 463 515 457 516 454 516 459 516 456 518 455 518 456 518 454 519 452 519 453 519 455 520 453 520 452 521 450 521 448 522 448 522 447 522 450 523 449 523 446 523 445 524 443 525 444 525 437 525 442 526 437 526 436 527 433 528 429 528 426 528 435 530 406 531 406 531 405 534 360 536 352 536 351 537 339 538 333 544 453 544 452 545 448 546 452 546 448 546 449 548 452 548 450 548 448 548 449 548 446 549 450 549 448 550 449 550 447 550 448 550 445 551 448 551 446 552 448 552 445 553 446 553 447 554 446 554 444 555 445 555 442 556 444 557 444 557 445 557 440 558 445 558 440 558 442 558 443 558 444 559 439 559 443 560 439 561 438 561 440 562 440 562 441 562 438 563 440 563 443 564 441 564 437 564 432 566 436 566 444 566 442 567 435 567 438 567 436 567 437 568 439 569 441 569 435 569 451 570 435 570 437 570 433 571 435 571 436 573 435 573 433 573 432 573 434 574 432 575 429 576 434 576 430 576 435 577 433 577 435 577 432 578 429 578 431 578 428 579 433 579 434 581 430 581 433 582 428 582 433 583 427 585 425 586 425 586 422 587 425 587 423 587 426 587 424 588 432 588 425 588 424 589 425 589 423 590 425 590 423 592 425 592 420 594 417 594 419 594 425 595 418 595 417 596 413 597 412 597 410 597 411 598 409 597 406 598 405 599 404 599 403 600 399 600 398 600 395 602 384 604 384 605 382 605 380 604 378 603 378 606 384 605 383 606 386 605 387 606 388 608 395 607 395 609 398 608 399 609 401 610 402 610 407 610 406 611 407 610 473 611 472 611 471 612 473 613 474 613 472 614 472 614 471 614 474 614 473 615 470 615 471 615 473 616 471 616 470 616 473 616 472 617 476 617 471 618 474 618 472 619 473 619 472 620 473 621 472 622 472 622 475 622 474 623 473 623 471 623 474 623 472 624 473 624 475 624 474 625 473 625 474 625 471 626 474 627 475 627 472 628 473 628 475 628 472 629 474 629 473 629 475 630 473 630 477 631 475 631 474 632 473 632 476 632 474 633 476 633 475 633 474 634 476 635 479 635 476 635 478 635 477 635 475 636 477 636 476 636 474 636 479 637 478 637 477 638 476 638 478 639 479 639 477 640 478 641 478 642 479 642 480 643 477 643 480 643 478 643 479 643 481 644 480 644 479 645 480 645 479 646 479 646 477 646 481 646 480 647 480 647 481 648 481 648 480 649 481 649 480 650 498 651 499 651 500 651 498 651 501 652 499 652 501 653 500 653 502 654 504 654 503 655 505 656 506 656 505 657 508 657 507 658 508 658 507 658 509 659 508 659 509 660 509 660 510 660 511 661 509 661 511 662 510 662 511 663 508 663 510 663 509 664 510 664 511 665 510 666 511 666 510 667 510 667 511 668 511 669 511 669 510 669 512 670 512 671 511 671 512 672 511 672 512 672 510 673 512 673 511 673 513 674 512 675 512 675 513 676 512 676 513 677 513 677 514 678 514 679 516 679 514 679 513 680 515 680 513 681 515 681 514 682 515 682 514 683 516 683 515 684 515 684 516 685 516 685 515 685 514 686 516 686 517 687 517 688 517 689 517 689 518 690 517 690 518 691 518 692 518 692 519 693 519 693 518 694 518 694 519 695 519 695 518 696 519 696 518 696 520 697 519 698 519 698 520 699 520 699 521 700 520 701 520 701 521 702 520 702 521 703 521 703 520 704 520 704 521 705 521 706 521 707 521 707 522 708 522 709 522 710 522 711 522 712 522 712 523 713 522 713 523 714 523 714 522 715 523 716 523 717 523 718 523 719 523 720 523 721 523 722 523 723 523 724 523 725 523 725 524 726 523 726 524 727 524 728 524 728 523 729 524 730 524 731 524 732 524 733 524 734 524 735 524 736 524 737 524 738 524 739 524 740 524 741 524 742 524 743 524 744 524 745 524 746 524 747 524 748 524 749 524 750 524 751 524 752 524 753 524 754 524 755 524 756 524 757 524 758 524 759 524 760 524 761 524 762 524 763 524 764 524 765 524 766 524 767 524 768 524 769 524 770 524 771 524 772 524 773 524 774 524 775 524 776 524 777 524 778 524 779 524 780 524 781 524 782 524 783 524 784 524 785 524 786 524 787 524 788 524 789 524 790 524 791 524 792 524 793 524 794 524 795 524 796 524 797 524 798 524 799 524 800 524 801 524 802 524 803 524 804 524 805 524 806 524 807 524 808 524 809 524 810 524 811 524 812 524 813 524 814 524 815 524 816 524 817 524 818 524 819 524 820 524 821 524 822 524 823 524 824 524 825 524 826 524 827 524 828 524 829 524 830 524 831 524 832 524 833 524 834 524 835 524 836 524 837 524 838 524 839 524 840 524 841 524 842 524 843 524 844 524 845 524 846 524 847 524 848 524 849 524 850 524 851 524 852 524 853 524 854 524 855 524 856 524 857 524 858 524 859 524 860 524 861 524 862 524 863 524 864 524 865 524 866 524 867 524 868 524 869 524 870 524 871 524 872 524 873 524 874 524 875 524 876 524 877 524 878 524 879 524 880 524 881 524 882 524 883 524 884 524 885 524 886 524 887 524 888 524 889 524 890 524 891 524 892 524 893 524 894 524 895 524 896 524 897 524 898 524 899 524 900 524 901 524 902 524 903 524 904 524 905 524 906 524 907 524 908 524 909 524 910 524 911 524 912 524 913 524 914 524 915 524 916 524 917 524 918 524 919 524 920 524 921 524 922 524 923 524 924 524 925 524 926 524 927 524 928 524 929 524 930 524 931 524 932 524 933 524 934 524 935 524 936 524 937 524 938 524 939 524 940 524 941 524 942 524 943 524 944 524 945 524 946 524 947 524 948 524 949 524 950 524 951 524 952 524 953 524 954 524 955 524 956 524 957 524 958 524 959 524 960 524 961 524 962 524 963 524 964 524 965 524 966 524 967 524 968 524 970 524 971 524 972 524 973 524 974 524 975 524 976 524 977 524 978 524 979 524 980 524 981 524 982 524 983 524 984 524 985 524 986 524 987 524 988 524 989 524 990 524 991 524 992 524 993 524 994 524 995 524 996 524 997 524 998 524 999 524 1000 524 1001 524 1002 524" fill="none" stroke="none" marker-start="url(#qo)" marker-mid="url(#qo)" marker-end="url(#qo)"/>
<path transform="translate(.5 .5)" d="M75 523 76 523 79 523 83 523 94 523 102 523 123 521 126 521 127 521 135 521 140 521 141 521 147 521 148 521 165 522 169 522 171 523 174 520 175 523 178 520 178 522 179 522 186 522 188 520 188 522 189 522 193 520 194 522 198 520 198 522 200 522 201 520 202 522 203 522 203 520 204 522 205 522 208 520 210 522 212 522 217 520 217 522 218 520 219 519 228 519 233 521 234 521 235 521 236 519 237 521 238 521 240 519 241 519 242 518 242 519 244 519 244 522 246 521 247 521 248 519 249 519 251 519 252 519 258 518 268 518 269 520 269 518 270 518 270 517 271 520 273 518 274 518 275 520 276 518 276 520 277 518 280 520 287 520 287 521 288 517 289 517 290 519 292 517 293 517 293 519 294 519 297 517 298 519 298 517 300 515 303 519 309 518 310 519 311 516 312 516 313 518 315 518 315 516 319 516 319 514 321 515 321 518 325 515 327 517 328 517 330 515 330 518 332 515 332 514 334 513 334 517 336 517 336 515 336 518 337 515 337 517 338 514 341 514 342 517 342 514 348 516 349 515 350 513 351 516 353 513 354 513 359 513 359 515 359 512 362 513 362 512 362 514 364 515 364 512 365 514 365 515 365 512 366 512 367 514 369 511 372 511 372 513 374 510 376 513 377 509 377 510 378 511 379 510 379 513 381 513 381 512 382 509 385 509 387 508 388 509 388 512 389 511 389 508 392 508 392 511 393 510 393 508 394 507 394 508 395 511 395 508 396 508 396 507 397 505 398 510 399 506 400 507 401 509 402 509 403 509 404 509 404 508 405 510 406 509 407 504 407 503 407 508 407 505 408 506 408 508 408 505 409 508 409 505 410 509 411 503 411 504 413 502 415 507 415 504 416 507 416 503 417 504 417 502 417 503 418 503 418 506 419 503 420 502 420 506 421 499 424 501 425 504 425 501 426 505 426 501 427 501 428 499 428 504 428 501 429 503 429 501 430 499 431 500 434 501 434 499 434 502 435 502 435 499 437 498 438 503 438 500 439 499 440 502 440 498 441 501 442 502 442 497 442 493 443 498 444 501 445 496 445 497 445 495 446 500 446 499 446 494 447 498 447 500 447 499 447 502 448 495 448 499 448 500 449 498 450 494 451 498 451 497 451 495 452 493 452 497 453 496 453 492 454 497 454 496 456 495 457 490 457 495 457 492 458 494 458 495 459 492 460 495 461 495 461 493 462 491 462 494 464 493 464 491 464 489 465 490 465 489 465 493 466 484 466 490 467 494 468 493 468 492 468 484 468 488 469 488 469 489 471 487 471 492 471 486 472 484 473 487 473 489 473 481 474 485 474 486 474 484 475 483 475 478 475 485 476 488 476 483 476 485 476 481 477 484 477 488 478 483 479 483 479 481 480 480 480 484 481 481 481 487 482 479 482 484 482 485 482 486 484 479 484 478 484 480 485 480 485 481 486 478 486 485 486 482 486 477 486 484 486 480 486 476 487 479 487 482 487 474 488 483 488 476 488 482 488 481 489 480 489 474 489 475 491 477 491 475 492 476 492 475 493 473 493 474 493 472 493 477 494 477 495 473 495 483 495 470 495 471 495 476 495 472 495 469 496 469 496 475 497 480 497 477 497 474 497 469 498 472 498 473 498 470 498 481 499 471 500 472 501 466 501 470 502 470 502 464 503 469 503 468 504 468 504 467 504 466 504 463 504 470 505 462 505 465 505 463 505 466 506 467 507 467 507 461 507 460 507 459 507 462 508 462 508 459 508 461 509 460 509 462 510 457 510 468 511 465 511 462 511 456 511 459 511 458 511 463 512 472 513 460 513 452 513 461 513 462 513 458 513 455 514 462 514 460 515 455 515 459 516 461 516 457 516 458 516 460 517 460 517 456 517 453 517 458 517 455 518 458 518 453 518 451 519 451 519 448 519 454 519 450 520 455 520 450 520 451 521 447 521 449 521 452 522 445 522 449 522 457 523 447 523 441 524 441 524 448 524 444 524 439 525 441 525 429 525 434 525 435 526 440 526 443 526 434 527 439 527 435 527 437 527 431 528 433 528 432 528 427 528 431 528 424 529 425 529 417 530 418 530 419 529 415 529 416 530 416 530 413 531 412 530 412 530 410 530 407 530 404 530 403 532 400 530 400 531 399 532 396 530 395 531 395 531 396 531 394 531 393 533 391 531 387 533 387 533 384 533 385 534 381 531 381 534 376 534 377 535 373 534 373 534 372 534 369 536 366 535 365 533 364 533 363 534 362 535 364 533 360 536 360 534 358 536 356 533 354 536 353 535 352 536 348 534 349 536 346 534 345 538 339 536 342 536 340 534 340 537 337 538 338 536 337 537 335 536 336 536 334 539 336 535 334 539 334 539 333 538 331 544 449 544 445 544 451 545 452 545 454 545 449 545 446 545 451 546 453 546 447 546 446 547 444 547 446 547 450 547 452 548 445 549 446 549 441 549 449 550 446 551 451 551 445 551 449 551 447 551 450 552 450 552 451 552 443 552 449 552 444 553 448 553 443 554 438 554 448 554 439 554 440 554 443 554 445 555 446 555 447 556 443 556 448 556 440 556 439 556 445 557 447 557 443 557 449 558 439 558 441 558 438 559 445 559 438 559 436 559 442 559 450 560 436 560 440 560 442 560 438 560 452 561 441 561 442 561 439 561 443 562 437 562 434 563 445 564 444 564 440 564 439 564 436 565 439 565 438 565 436 566 434 566 441 566 438 566 440 566 435 566 431 566 425 567 439 567 434 567 441 568 440 568 435 569 444 570 440 570 434 571 439 571 434 571 433 571 440 571 437 572 437 572 436 572 434 572 439 572 440 572 433 574 433 574 429 574 434 574 437 574 417 574 423 574 430 575 432 575 436 575 431 576 415 576 437 576 439 577 429 577 436 577 430 577 437 578 434 578 435 578 430 578 432 579 427 579 429 579 431 579 428 579 432 579 436 579 435 580 425 580 427 580 433 580 430 580 428 580 431 580 429 581 434 581 435 581 431 581 420 581 426 582 432 582 426 582 430 582 427 582 431 583 437 583 428 583 434 583 430 583 429 583 426 584 427 584 432 584 430 584 421 584 426 584 428 584 429 584 424 585 422 585 435 585 428 585 432 586 419 586 421 586 423 587 428 587 431 587 432 587 429 587 422 587 427 588 420 588 426 588 427 589 415 589 424 589 435 589 426 589 421 590 421 590 424 590 428 590 430 590 422 590 420 591 425 591 429 591 423 591 420 591 427 591 418 591 417 592 427 592 424 592 426 592 421 593 424 593 421 593 417 593 428 593 420 594 423 594 422 594 407 594 420 595 419 595 424 595 416 598 417 596 414 596 412 598 412 595 412 598 410 599 408 598 407 597 404 597 401 601 402 600 402 598 402 602 397 599 397 603 394 598 396 601 396 601 392 601 393 602 392 602 390 601 386 602 386 601 389 602 387 602 388 603 385 603 383 604 383 603 381 601 383 604 382 603 382 605 379 605 376 601 376 603 379 604 381 604 380 604 379 606 382 604 385 605 389 604 388 607 389 607 390 606 389 606 390 606 391 608 393 606 394 607 399 606 395 608 397 608 401 609 405 610 404 608 406 611 406 611 405 609 404 610 405 609 406 612 409 611 410 612 408 610 470 610 469 610 472 611 474 611 470 611 466 612 474 612 472 612 470 613 473 613 471 613 470 613 469 614 470 614 476 615 474 615 469 615 472 616 469 616 475 617 472 617 473 618 473 618 470 618 467 619 474 619 468 620 475 620 471 620 478 620 470 620 472 620 474 621 473 621 474 621 469 621 475 621 470 622 477 622 478 622 473 623 476 623 482 623 477 624 480 624 467 625 476 625 472 625 475 626 475 626 470 626 477 626 473 627 473 627 470 628 477 629 476 629 477 629 472 630 475 630 474 631 476 631 472 631 473 632 475 632 478 634 477 634 472 634 478 635 480 635 472 636 475 636 481 636 478 637 475 637 480 637 479 638 474 638 475 638 477 639 478 639 476 639 482 640 479 640 476 641 480 641 476 641 477 642 476 642 477 642 478 644 476 644 481 644 478 645 478 645 472 646 478 646 476 647 475 647 479 648 477 649 483 649 479 649 478 649 477 649 482 651 502 652 500 653 501 653 503 655 507 655 504 657 506 657 509 659 507 659 510 660 512 661 512 661 510 662 509 663 511 664 509 664 512 665 512 666 512 666 509 667 512 668 509 668 510 669 508 670 511 670 510 671 509 674 511 675 511 676 514 677 512 678 510 678 513 679 515 680 514 683 514 685 517 686 515 687 516 689 516 691 519 692 517 693 517 698 518 699 519 701 519 702 519 703 522 704 522 706 522 708 523 709 521 716 522 969 524 542 261 541 278 534 285 542 288 537 290 541 300 542 307 535 315 539 318 543 321 538 323 541 327 544 335 544 345 544 370 544 403 613 418 612 425 613 452 612 460 729 523 731 523 734 523 750 523 800 523 801 523 831 523" fill="none" stroke="none" marker-start="url(#po)" marker-mid="url(#po)" marker-end="url(#po)"/>
<path d="M543.0 524.3L543.0 261.8" fill="none" stroke="#ff7f0e" stroke-opacity=".8" stroke-width="2.08" stroke-dasharray="7.71 3.33" stroke-dashoffset="-0.7" marker-start="url(#xo)" marker-end="url(#xo)"/>
<path transform="translate(.5 .5)" d="M74 523 75 523 76 523 77 523 78 523 79 523 80 523 81 523 82 523 83 523 84 523 85 523 86 523 87 523 88 523 89 523 90 523 91 523 92 523 93 523 94 523 94 522 95 523 96 523 97 523 98 522 98 523 99 523 100 523 101 522 101 523 102 523 102 522 103 523 104 523 105 522 105 523 106 522 106 523 107 523 108 522 108 523 109 523 109 522 110 523 111 523 111 522 112 523 112 522 113 522 113 523 114 523 114 522 115 522 115 523 116 522 116 523 117 522 117 523 118 523 119 522 119 523 120 522 121 522 122 522 123 522 124 522 125 522 126 522 127 522 128 522 129 522 130 522 131 522 132 522 133 522 134 522 135 522 136 522 137 522 138 522 139 522 140 522 141 522 142 522 143 522 144 522 145 522 146 522 147 522 148 522 149 522 150 522 151 522 152 522 153 522 154 522 155 522 156 522 157 522 158 522 159 522 160 522 161 522 162 522 163 522 164 522 165 522 166 522 167 522 168 522 169 522 170 522 171 522 172 522 173 522 174 522 175 522 176 522 177 522 178 522 179 522 179 521 180 522 181 522 182 522 182 521 183 521 183 522 184 521 184 522 185 522 186 522 186 521 187 522 187 521 188 522 188 521 189 522 189 521 190 522 190 521 191 522 191 521 192 521 192 522 193 521 193 522 194 522 194 521 195 522 195 521 196 521 196 522 197 522 197 521 198 522 198 521 199 521 199 522 200 521 200 522 201 521 202 521 203 521 203 522 204 521 205 521 205 522 206 521 207 522 207 521 208 521 209 521 210 521 211 521 212 521 213 521 214 521 215 521 216 521 217 521 218 521 219 521 220 521 221 521 222 521 223 521 224 521 225 521 226 521 227 521 228 521 229 521 230 521 231 521 232 521 233 521 234 520 234 521 235 521 235 520 236 520 236 521 237 520 237 521 238 521 238 520 239 521 239 520 240 520 240 521 241 521 241 520 242 520 242 521 243 521 243 520 244 520 245 520 246 520 247 520 247 521 248 520 248 521 249 521 249 520 250 520 251 520 252 520 253 520 254 520 255 520 256 520 257 520 258 520 259 520 260 520 261 520 262 520 263 520 263 519 264 519 264 520 265 520 265 519 266 520 267 520 268 520 268 519 269 520 269 519 270 519 270 520 271 520 271 519 272 520 272 519 273 519 273 520 274 519 274 520 275 519 275 520 276 519 277 519 278 519 278 520 279 519 280 519 281 519 282 519 283 519 284 519 285 519 286 519 287 519 287 518 288 519 289 519 289 518 290 519 291 519 292 519 292 518 293 518 293 519 294 518 295 518 295 519 296 518 296 519 297 519 297 518 298 518 298 519 299 518 300 518 300 519 301 518 302 518 303 518 304 518 305 518 305 517 306 517 306 518 307 517 307 518 308 518 308 517 309 518 309 517 310 518 311 518 311 517 312 517 312 516 313 517 313 518 314 517 314 518 315 517 315 518 316 518 316 517 317 517 318 517 319 517 319 518 320 517 321 517 322 516 322 517 323 516 323 517 324 517 324 516 325 517 325 516 326 517 327 517 327 516 328 517 328 516 329 517 329 516 330 516 331 516 332 516 333 516 334 516 335 516 335 515 336 516 336 515 337 515 337 516 338 515 338 516 339 516 339 515 340 516 340 515 341 515 341 516 342 515 342 516 343 515 343 516 344 515 345 515 346 515 346 514 346 516 347 515 348 515 348 514 349 514 349 515 350 515 350 514 351 515 351 514 352 514 352 515 353 515 353 514 354 514 354 515 355 515 355 514 355 513 356 514 356 513 357 514 357 513 358 514 359 514 359 513 360 514 361 513 361 514 362 513 362 514 363 513 364 513 365 513 366 513 367 512 367 513 368 513 368 512 368 511 369 513 369 512 370 513 370 512 371 512 371 513 372 513 372 512 373 512 373 513 373 511 374 512 375 512 376 512 377 511 377 512 378 511 378 512 379 511 379 512 379 510 380 512 380 511 380 510 381 511 382 511 382 510 383 511 383 510 384 511 384 510 385 510 386 511 386 510 387 511 387 510 388 510 388 511 389 510 390 509 390 510 391 510 391 509 392 509 392 510 393 509 393 510 393 508 394 509 395 509 395 508 396 509 396 508 397 509 397 507 397 508 398 508 398 509 399 508 399 509 400 508 400 509 401 507 401 508 402 507 403 507 403 508 404 507 405 508 405 506 405 507 406 507 407 507 407 506 408 506 408 507 409 506 409 507 410 506 410 507 411 507 411 506 412 506 412 505 413 506 413 505 414 506 414 505 415 504 415 506 415 505 416 505 416 504 417 505 417 504 418 505 418 504 419 505 419 504 419 506 420 504 420 505 421 505 421 504 421 503 422 503 423 504 423 503 424 503 425 502 425 503 426 503 426 502 427 503 427 502 428 502 428 503 429 503 429 502 430 502 431 501 431 500 432 502 432 500 432 501 433 502 433 500 433 501 434 501 434 500 435 500 435 499 435 501 436 499 436 501 436 500 437 499 437 500 438 500 438 501 438 499 439 499 440 498 440 500 440 499 441 499 441 498 442 498 442 499 443 498 444 499 444 497 444 498 445 498 445 496 446 497 446 498 447 498 447 497 448 497 448 496 448 498 449 497 449 496 450 496 450 497 451 496 452 495 452 494 452 496 453 495 453 494 454 495 454 494 455 494 456 494 456 495 456 493 457 494 457 493 457 495 458 495 458 494 458 493 459 493 459 492 459 494 460 492 460 493 461 492 461 494 461 493 462 493 462 491 463 493 463 492 464 491 464 493 464 490 464 492 465 491 466 490 467 490 467 489 468 490 468 491 469 489 469 490 470 489 470 490 471 488 471 487 471 489 472 487 472 490 472 488 473 486 473 488 473 489 473 487 474 488 474 487 475 486 475 487 476 488 476 486 477 486 477 485 478 485 478 484 479 484 479 483 479 485 480 484 480 483 481 484 481 482 481 483 482 482 483 481 483 482 484 482 485 480 485 482 486 480 486 479 487 480 487 479 488 479 488 478 489 477 489 478 489 480 489 479 490 478 490 476 490 477 491 477 491 475 492 475 493 475 493 472 493 476 494 475 494 474 495 473 495 474 495 472 496 473 496 475 497 473 497 472 497 474 498 474 498 470 498 472 498 471 499 471 499 470 499 465 499 472 500 470 500 468 501 469 501 468 502 468 503 468 503 467 503 465 504 466 504 465 504 467 505 466 505 464 505 465 506 465 506 464 507 463 507 460 508 461 508 458 508 459 508 457 509 454 510 447 511 443 512 441 511 431 513 420 516 378 516 364 517 361 517 358 519 352 520 340 521 338 521 336 521 335 531 438 531 436 532 433 532 437 533 440 533 436 534 437 535 432 535 431 535 434 536 435 536 432 537 436 537 432 538 432 538 431 538 433 539 431 539 432 540 430 540 428 541 430 541 429 541 427 542 431 542 430 542 427 543 428 543 429 544 426 544 428 544 425 545 425 545 426 546 428 547 426 548 425 548 426 548 422 550 425 550 426 550 423 550 421 551 422 551 425 551 423 551 420 552 422 552 424 552 421 553 425 554 423 554 424 555 416 555 423 555 421 556 421 556 422 556 420 556 417 557 419 557 421 557 422 557 416 558 423 558 421 559 418 559 420 560 415 560 414 561 417 561 412 562 414 562 419 563 417 563 415 563 413 563 414 564 413 564 410 564 418 564 412 565 413 565 415 566 411 569 414 569 411 570 406 571 412 571 404 572 404 572 409 572 406 573 404 573 410 573 405 573 412 575 401 575 402 576 400 577 403 576 401 576 402 579 395 579 393 580 391 581 391 580 389 581 387 582 387 582 383 583 381 582 380 584 379 584 378 583 378 585 372 586 369 586 370 586 371 586 361 587 365 589 363 589 357 589 360 589 358 589 364 590 359 590 357 591 358 591 350 591 355 593 357 596 367 595 374 596 377 596 380 597 380 595 437 595 438 596 441 596 439 596 438 596 437 597 439 598 443 598 442 598 437 598 440 599 443 600 437 600 439 601 440 601 441 602 436 602 437 602 440 602 438 603 438 603 437 604 438 604 440 604 441 604 439 605 441 606 439 606 438 606 441 607 440 607 439 607 438 607 437 608 438 608 436 608 439 608 440 610 439 610 438 611 440 611 439 612 439 612 437 613 439 613 440 614 436 614 441 614 439 615 439 616 439 616 438 616 440 616 437 616 441 618 436 618 438 618 437 619 440 619 442 619 438 620 440 621 436 621 437 621 440 622 436 622 435 623 437 624 438 624 436 625 439 625 437 625 436 625 438 625 434 626 436 626 438 627 438 627 436 628 442 628 440 628 438 629 439 629 438 629 441 630 444 630 442 631 448 632 447 631 449 632 448 633 451 633 455 634 457 634 459 635 462 637 473 636 487 636 488 637 487 637 488 637 486 638 488 638 489 639 488 639 489 640 490 640 488 640 489 641 489 641 490 642 491 642 490 642 489 642 488 643 490 643 489 644 491 644 490 645 491 645 490 647 491 647 492 648 492 649 492 649 491 649 494 649 493 650 493 650 492 651 493 651 494 651 492 652 493 652 494 652 495 653 493 654 495 655 495 656 494 656 496 657 495 658 495 658 496 658 497 659 495 659 497 659 496 660 497 660 498 661 498 661 499 662 498 662 499 662 500 663 502 664 502 664 503 664 504 665 504 666 506 667 506 667 507 667 508 668 508 669 509 669 510 669 511 670 511 671 511 672 512 673 512 673 513 674 513 675 514 675 513 676 514 677 515 677 514 678 515 678 516 679 516 680 516 680 517 681 516 681 517 682 517 682 516 683 518 683 517 684 518 684 519 685 519 686 519 687 519 687 520 688 520 689 520 689 519 690 520 691 520 692 520 693 520 693 521 694 520 694 521 695 521 696 521 697 521 697 522 698 522 698 521 699 522 700 522 701 522 702 522 702 523 703 523 704 523 705 523 706 523 707 523 708 523 709 523 710 523 711 523 712 523 713 523 714 523 714 524 715 524 716 524 717 524 718 524 719 524 720 524 721 524 722 524 723 524 724 524 725 524 726 524 727 524 728 524 729 524 730 524 731 524 732 524 733 524 734 524 735 524 736 524 737 524 738 524 739 524 740 524 741 524 742 524 743 524 744 524 745 524 746 524 747 524 748 524 749 524 750 524 751 524 752 524 753 524 754 524 755 524 756 524 757 524 758 524 759 524 760 524 761 524 762 524 763 524 764 524 765 524 766 524 767 524 768 524 769 524 770 524 771 524 772 524 773 524 774 524 775 524 776 524 777 524 778 524 779 524 780 524 781 524 782 524 783 524 784 524 785 524 786 524 787 524 788 524 789 524 790 524 791 524 792 524 793 524 794 524 795 524 796 524 797 524 798 524 799 524 800 524 801 524 802 524 803 524 804 524 805 524 806 524 807 524 808 524 809 524 810 524 811 524 812 524 813 524 814 524 815 524 816 524 817 524 818 524 819 524 820 524 821 524 822 524 823 524 824 524 825 524 826 524 827 524 828 524 829 524 830 524 831 524 832 524 833 524 834 524 835 524 836 524 837 524 838 524 839 524 840 524 841 524 842 524 843 524 844 524 845 524 846 524 847 524 848 524 849 524 850 524 851 524 852 524 853 524 854 524 855 524 856 524 857 524 858 524 859 524 860 524 861 524 862 524 863 524 864 524 865 524 866 524 867 524 868 524 869 524 870 524 871 524 872 524 873 524 874 524 875 524 876 524 877 524 878 524 879 524 880 524 881 524 882 524 883 524 884 524 885 524 886 524 887 524 888 524 889 524 890 524 891 524 892 524 893 524 894 524 895 524 896 524 897 524 898 524 899 524 900 524 901 524 902 524 903 524 904 524 905 524 906 524 907 524 908 524 909 524 910 524 911 524 912 524 913 524 914 524 915 524 916 524 917 524 918 524 919 524 920 524 921 524 922 524 923 524 924 524 925 524 926 524 927 524 928 524 929 524 930 524 931 524 932 524 933 524 934 524 935 524 936 524 937 524 938 524 939 524 940 524 941 524 942 524 943 524 944 524 945 524 946 524 947 524 948 524 949 524 950 524 951 524 952 524 953 524 954 524 955 524 956 524 957 524 958 524 959 524 960 524 961 524 962 524 963 524 964 524 965 524 966 524 967 524 968 524 969 524 970 524 971 524 972 524 973 524 974 524 975 524 976 524 977 524 978 524 979 524 980 524 981 524 982 524 983 524 984 524 985 524 986 524 987 524 988 524 989 524 990 524 991 524 992 524 993 524 994 524 995 524 996 524 997 524 998 524 999 524 1000 524 1001 524 1002 524" fill="none" stroke="none" marker-start="url(#qg)" marker-mid="url(#qg)" marker-end="url(#qg)"/>
<path transform="translate(.5 .5)" d="M88 522 92 522 95 522 97 522 99 522 103 522 110 522 118 522 123 523 126 523 127 523 128 523 130 523 131 523 132 523 138 523 140 523 142 523 159 523 167 523 168 521 180 521 181 521 201 522 202 522 204 522 206 522 214 520 217 520 218 522 222 520 227 520 229 522 231 520 232 520 233 520 245 521 246 521 250 521 253 521 254 521 255 521 256 519 258 519 258 521 277 520 279 520 280 520 281 520 284 518 288 518 289 520 290 518 291 518 293 520 294 519 301 519 303 519 304 517 309 519 310 517 317 518 318 516 325 518 326 516 327 518 330 517 331 517 332 517 332 515 334 515 343 517 344 516 345 514 352 513 357 515 360 513 361 515 362 512 363 514 365 514 365 512 366 512 372 511 374 511 374 510 374 513 376 511 378 510 381 512 385 512 385 511 386 512 388 509 388 508 389 509 394 510 394 508 395 510 395 507 398 507 399 505 402 509 402 508 403 506 404 508 404 506 406 506 406 508 410 505 411 505 414 504 414 503 416 503 416 506 417 506 417 503 419 503 420 503 421 502 422 504 424 504 424 502 427 504 427 501 428 501 429 500 429 501 430 500 430 503 431 502 431 498 432 503 432 499 433 499 436 502 436 503 436 498 439 500 439 498 441 500 442 497 443 499 443 497 443 500 445 497 446 496 447 496 449 495 449 492 449 499 450 498 450 495 451 494 453 497 453 496 454 496 455 493 455 495 456 496 458 492 460 494 460 491 461 489 464 494 465 492 465 490 465 489 466 491 466 493 466 494 466 496 466 489 467 492 467 495 468 489 469 492 470 486 470 487 470 491 470 488 473 485 474 486 475 485 476 485 477 488 477 484 479 487 480 486 480 482 480 485 481 487 481 485 482 483 482 478 483 483 483 480 484 481 484 483 484 480 485 483 485 481 485 479 487 478 487 477 488 481 488 476 488 475 488 477 490 475 490 474 490 479 491 474 492 476 492 477 492 473 493 478 494 473 494 477 495 476 495 471 495 475 496 476 496 472 496 471 497 471 497 470 497 469 498 475 498 468 499 469 499 476 501 467 501 472 501 470 502 467 502 465 503 466 503 464 505 469 505 458 506 461 506 460 507 461 507 462 508 462 508 463 508 464 508 465 508 460 509 458 506 456 509 456 509 452 508 451 511 448 510 448 509 449 511 450 511 445 510 444 512 443 511 442 513 444 512 440 512 438 512 437 510 438 512 435 512 431 513 431 513 430 511 426 513 424 512 425 512 424 512 417 512 418 512 414 512 412 513 412 513 407 513 405 517 407 514 406 514 407 514 405 514 403 516 402 513 402 515 401 515 387 516 387 516 380 514 377 517 377 516 374 516 375 517 374 515 375 515 372 515 373 516 370 516 365 518 366 518 365 517 362 517 359 517 356 518 354 518 356 519 353 519 350 520 349 520 346 519 346 521 344 520 345 519 342 518 344 521 339 520 337 523 334 521 333 520 333 521 334 522 333 522 331 522 329 521 329 521 330 531 440 531 429 531 439 531 443 531 435 532 439 532 435 532 434 532 440 533 435 533 431 533 437 533 430 533 434 534 434 534 436 534 433 534 438 535 435 535 433 536 433 536 434 537 430 537 435 538 429 538 428 539 426 539 430 539 427 539 428 539 433 539 429 540 427 540 429 541 415 541 432 542 426 542 428 543 430 543 427 543 426 543 423 544 430 544 429 544 427 545 423 545 429 545 418 545 430 545 427 546 424 546 425 546 426 546 422 546 421 546 427 547 423 548 423 548 424 548 429 548 430 549 428 549 426 549 418 549 420 549 423 550 424 550 427 551 426 551 424 552 423 552 420 553 424 553 421 553 416 553 417 553 422 554 413 554 418 554 417 554 421 554 422 554 426 555 419 555 418 555 422 555 417 556 425 556 418 556 411 557 418 557 423 558 422 558 415 558 418 559 423 559 419 559 427 560 420 560 418 560 419 560 421 560 417 561 411 561 418 561 421 561 416 562 413 562 418 562 417 563 422 563 418 563 416 563 411 563 408 564 408 564 417 564 405 565 416 565 410 565 418 565 411 565 409 566 404 566 412 566 415 566 409 566 416 567 417 567 416 567 408 567 412 568 398 568 406 568 410 568 409 568 413 569 405 569 412 569 410 570 413 570 412 570 408 570 409 571 409 571 413 571 410 571 408 571 411 571 405 571 407 572 405 572 413 572 412 573 399 573 400 573 402 573 401 573 408 573 416 574 407 574 409 574 403 574 405 575 397 575 404 575 406 575 403 575 405 575 400 576 404 576 408 576 405 576 394 576 403 578 402 578 400 579 400 579 398 578 398 578 399 578 396 579 394 580 394 578 393 582 391 581 393 580 390 578 391 583 386 580 387 581 386 582 386 581 384 580 386 580 385 582 384 580 384 583 384 581 381 581 380 582 382 584 381 583 383 582 378 583 379 584 376 584 377 585 374 584 375 585 375 584 373 584 372 586 373 586 375 586 365 586 363 586 364 586 358 587 363 587 361 587 369 587 368 587 366 588 359 588 371 588 357 588 360 588 355 588 364 588 361 588 358 589 362 589 356 589 365 590 354 590 356 590 353 590 358 591 353 592 360 592 352 592 349 592 354 592 365 592 358 592 355 592 350 592 359 592 357 593 358 594 359 592 356 593 359 595 359 593 361 593 360 594 362 592 362 593 363 594 367 594 365 593 368 595 369 595 372 594 373 594 374 596 373 594 377 596 375 598 375 594 376 595 379 596 381 597 384 596 385 596 387 597 388 596 388 596 389 595 444 595 434 595 439 595 440 595 441 596 440 597 443 597 442 597 436 598 438 599 436 599 441 599 442 599 439 599 440 600 438 600 440 601 442 601 443 601 437 601 439 602 444 602 439 603 435 603 443 603 433 603 436 604 442 604 432 604 443 605 449 605 440 605 437 606 432 606 437 606 440 607 443 608 434 608 441 608 437 609 440 609 442 609 441 609 439 609 437 610 434 610 437 610 443 610 436 611 441 611 438 611 433 611 436 612 438 612 442 612 441 612 440 612 435 613 437 613 435 614 440 614 438 615 445 615 437 615 440 615 438 615 435 615 442 616 436 616 442 616 433 617 435 617 441 617 439 617 442 617 438 617 436 619 439 619 441 620 439 620 437 620 443 620 438 621 438 621 439 621 435 622 443 622 433 622 437 622 439 623 433 623 434 624 441 624 439 624 437 625 435 625 432 626 433 626 437 626 440 626 435 626 434 626 439 626 441 627 433 627 435 627 434 628 437 628 443 628 441 629 440 629 442 630 439 630 441 632 443 631 443 631 440 631 444 631 445 631 446 630 447 633 447 633 448 632 450 630 448 632 454 633 452 635 456 634 456 634 458 633 459 634 460 633 462 635 461 637 462 634 461 633 461 634 463 637 463 636 465 635 464 635 466 636 467 637 469 637 468 636 470 638 470 637 472 637 471 636 485 636 486 637 489 638 487 638 486 638 491 639 491 640 491 640 487 641 488 641 491 643 492 643 491 644 489 644 488 646 490 646 491 646 493 646 492 647 493 647 490 648 491 648 490 651 495 653 495 653 497 653 498 653 494 654 496 654 493 655 496 655 494 655 493 656 495 657 497 657 496 658 494 659 494 659 498 660 496 662 501 662 502 663 504 663 501 663 499 664 501 664 505 665 503 666 504 666 505 666 507 668 509 668 510 670 510 671 512 672 510 672 511 674 514 674 512 675 512 676 515 679 515 683 519 684 517 684 520 686 520 691 521 692 521 695 522 699 521 703 522 526 215 526 255 525 278 526 286 525 296 520 302 523 305 526 307 520 314 524 315 526 320 524 324 521 328 585 340 596 350 596 424 597 431 636 459" fill="none" stroke="none" marker-start="url(#pg)" marker-mid="url(#pg)" marker-end="url(#pg)"/>
<path d="M530.0 524.3L530.0 215.8" fill="none" stroke="#2ca02c" stroke-opacity=".8" stroke-width="2.08" stroke-dasharray="7.71 3.33" stroke-dashoffset="-0.7" marker-start="url(#xg)" marker-end="url(#xg)"/>
</g>
<rect x="74.5" y="32.5" width="928.0" height="515.0" fill="none" stroke="#000" stroke-width="1.1"/>
<path d="M95.5 547.5v4.86M327.5 547.5v4.86M558.5 547.5v4.86M790.5 547.5v4.86" stroke="#000" stroke-width="1" fill="none"/>
<path d="M84.5 547.5v2.78M165.5 547.5v2.78M205.5 547.5v2.78M234.5 547.5v2.78M257.5 547.5v2.78M275.5 547.5v2.78M291.5 547.5v2.78M304.5 547.5v2.78M316.5 547.5v2.78M396.5 547.5v2.78M437.5 547.5v2.78M466.5 547.5v2.78M489.5 547.5v2.78M507.5 547.5v2.78M523.5 547.5v2.78M536.5 547.5v2.78M548.5 547.5v2.78M628.5 547.5v2.78M669.5 547.5v2.78M698.5 547.5v2.78M720.5 547.5v2.78M739.5 547.5v2.78M754.5 547.5v2.78M768.5 547.5v2.78M780.5 547.5v2.78M860.5 547.5v2.78M901.5 547.5v2.78M930.5 547.5v2.78M952.5 547.5v2.78M971.5 547.5v2.78M986.5 547.5v2.78M1000.5 547.5v2.78" stroke="#000" stroke-width="0.9" fill="none"/>
<path d="M74.5 524.5h-4.86M74.5 425.5h-4.86M74.5 325.5h-4.86M74.5 226.5h-4.86M74.5 127.5h-4.86" stroke="#000" stroke-width="1" fill="none"/>
<text x="65.3" y="529.8" text-anchor="end">0</text>
<text x="65.3" y="430.8" text-anchor="end">1000</text>
<text x="65.3" y="330.8" text-anchor="end">2000</text>
<text x="65.3" y="231.8" text-anchor="end">3000</text>
<text x="65.3" y="132.8" text-anchor="end">4000</text>
<text transform="translate(79.0 571.8) scale(.94 1)">10</text><text transform="translate(96.2 566.9) scale(.9 1)" font-size="10.6px">−5</text>
<text transform="translate(311.0 571.8) scale(.94 1)">10</text><text transform="translate(328.2 566.9) scale(.9 1)" font-size="10.6px">−4</text>
<text transform="translate(542.0 571.8) scale(.94 1)">10</text><text transform="translate(559.2 566.9) scale(.9 1)" font-size="10.6px">−3</text>
<text transform="translate(774.0 571.8) scale(.94 1)">10</text><text transform="translate(791.2 566.9) scale(.9 1)" font-size="10.6px">−2</text>
<text transform="translate(538.0 23.7) scale(1 1.085)" text-anchor="middle" font-size="16.67px">Histogram for each observation</text>
<text transform="translate(538.5 596.9) scale(1.008 1.03)" text-anchor="middle">Count rate [<tspan font-style="italic">s</tspan><tspan dy="-5.1" font-size="9.72px">−1</tspan><tspan dy="5.1">]</tspan></text>
<text transform="translate(20.3 291.3) rotate(-90) scale(1.015 1.03)" text-anchor="middle">Number of pixels in bin</text>
<rect x="582.6" y="39.4" width="412.9" height="67.2" rx="2.8" fill="#fff" fill-opacity=".8" stroke="#ccc" stroke-width="1.11"/>
<path d="M602.5 46.33v8.34M598.33 50.5h8.34" stroke="#1f77b4" stroke-opacity=".8" stroke-width="1.39" fill="none"/>
<text transform="translate(627.1 55.8) scale(.997 1.03)">POL0 (1997-08-20 17:51:35) with n_bins = 12789</text>
<path d="M602.5 67.33v8.34M598.33 71.5h8.34" stroke="#ff7f0e" stroke-opacity=".8" stroke-width="1.39" fill="none"/>
<text transform="translate(627.1 76.7) scale(.997 1.03)">POL60 (1997-08-20 18:06:48) with n_bins = 11255</text>
<path d="M602.5 88.33v8.34M598.33 92.5h8.34" stroke="#2ca02c" stroke-opacity=".8" stroke-width="1.39" fill="none"/>
<text transform="translate(627.1 97.6) scale(.997 1.03)">POL120 (1997-08-20 18:22:11) with n_bins = 10182</text>
</svg>
</body></html>
